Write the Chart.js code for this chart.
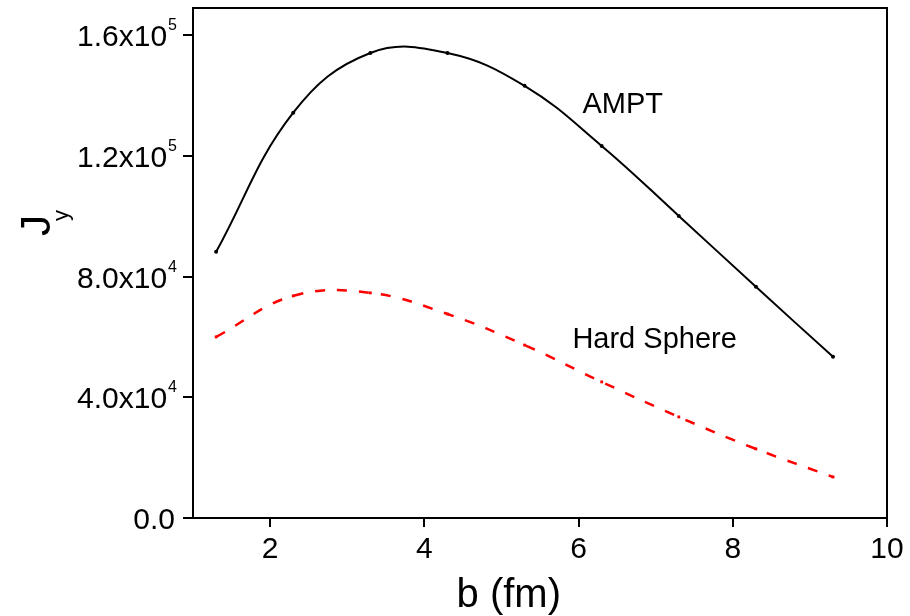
<!DOCTYPE html>
<html>
<head>
<meta charset="utf-8">
<title>Jy vs b</title>
<script src="https://cdn.jsdelivr.net/npm/chart.js@4.4.1/dist/chart.umd.min.js"></script>
<style>
  html, body { margin: 0; padding: 0; background: #fff; }
  #wrap { width: 910px; height: 616px; }
</style>
</head>
<body>
<div id="wrap"><canvas id="myChart"></canvas></div>
<script>
// impact parameter b (fm)
const bValues = [1.3, 2.3, 3.3, 4.3, 5.3, 6.3, 7.3, 8.3, 9.3];
// J_y for the two models
const amptValues = [88200, 134300, 154100, 154100, 143200, 123300, 100100, 76600, 53400];
const hardSphereValues = [60000, 73600, 74600, 67600, 57300, 45100, 33500, 22900, 13600];

const xTicks = [2, 4, 6, 8, 10];
const yTicks = [0, 40000, 80000, 120000, 160000];
const yTickText = ["0.0", "4.0x10", "8.0x10", "1.2x10", "1.6x10"];
const yTickExp = ["", "4", "4", "5", "5"];

const seriesNames = ["AMPT", "Hard Sphere"];
// where the curve names sit (data units)
const nameX = [6.05, 5.92];
const nameY = [134300, 56400];

const FONT = '"Liberation Sans", Arial, sans-serif';

// frame, y tick labels with exponents, titles and curve names
const extras = {
	id: 'extras',
	afterDraw(chart) {
		const ctx = chart.ctx;
		const area = chart.chartArea;
		const xs = chart.scales.x;
		const ys = chart.scales.y;
		ctx.save();
		ctx.strokeStyle = '#000';
		ctx.lineWidth = 2;
		ctx.strokeRect(area.left, area.top, area.right - area.left, area.bottom - area.top);

		ctx.fillStyle = '#000';
		ctx.textBaseline = 'alphabetic';
		ctx.textAlign = 'right';
		yTicks.forEach((v, i) => {
			const py = ys.getPixelForValue(v);
			let right = area.left - 16;
			if (yTickExp[i]) {
				ctx.font = '16px ' + FONT;
				ctx.fillText(yTickExp[i], right, py - 5);
				right -= ctx.measureText(yTickExp[i]).width + 1;
			} else {
				right -= 2;
			}
			ctx.font = '30px ' + FONT;
			ctx.fillText(yTickText[i], right, py + 11);
		});

		// x title
		ctx.textAlign = 'center';
		ctx.font = '40px ' + FONT;
		ctx.fillText('b (fm)', area.left + (area.right - area.left) * 0.455, 607);

		// y title J_y, rotated
		ctx.save();
		ctx.translate(50, 236);
		ctx.rotate(-Math.PI / 2);
		ctx.textAlign = 'left';
		ctx.font = '42px ' + FONT;
		ctx.fillText('J', 0, 0);
		ctx.font = '22px ' + FONT;
		ctx.fillText('y', 15, 18);
		ctx.restore();

		// curve names
		ctx.textAlign = 'left';
		ctx.font = '29px ' + FONT;
		seriesNames.forEach((name, i) => {
			ctx.fillText(name, xs.getPixelForValue(nameX[i]), ys.getPixelForValue(nameY[i]));
		});
		ctx.restore();
	}
};

const ctx = document.getElementById('myChart').getContext('2d');
const myChart = new Chart(ctx, {
	type: 'line',
	data: {
		datasets: [{
			label: seriesNames[0],
			data: bValues.map((b, i) => ({x: b, y: amptValues[i]})),
			borderColor: '#000',
			backgroundColor: '#000',
			borderWidth: 2,
			pointRadius: 2,
			pointBorderWidth: 0,
			tension: 0.4,
			fill: false
		}, {
			label: seriesNames[1],
			data: bValues.map((b, i) => ({x: b, y: hardSphereValues[i]})),
			borderColor: '#ff0000',
			backgroundColor: '#ff0000',
			borderWidth: 2.5,
			borderDash: [10, 12],
			pointStyle: 'rect',
			pointRadius: 2,
			pointBorderWidth: 0,
			tension: 0.4,
			fill: false
		}]
	},
	options: {
		responsive: true,
		maintainAspectRatio: false,
		animation: false,
		layout: { padding: { top: 8, right: 23, left: 0, bottom: 0 } },
		plugins: {
			legend: { display: false },
			tooltip: { enabled: false }
		},
		scales: {
			x: {
				type: 'linear',
				min: 1,
				max: 10,
				afterBuildTicks: s => { s.ticks = xTicks.map(v => ({value: v})); },
				afterFit: s => { s.height = 98; },
				border: { display: false },
				grid: { drawOnChartArea: false, drawTicks: true, tickLength: 9, color: '#000', lineWidth: 2 },
				ticks: { padding: 5, color: '#000', maxRotation: 0, autoSkip: false, font: { family: FONT, size: 30 } }
			},
			y: {
				type: 'linear',
				min: 0,
				max: 169000,
				afterBuildTicks: s => { s.ticks = yTicks.map(v => ({value: v})); },
				afterFit: s => { s.width = 193; },
				border: { display: false },
				grid: { drawOnChartArea: false, drawTicks: true, tickLength: 10, color: '#000', lineWidth: 2 },
				ticks: { display: false }
			}
		}
	},
	plugins: [extras]
});
</script>
</body>
</html>
